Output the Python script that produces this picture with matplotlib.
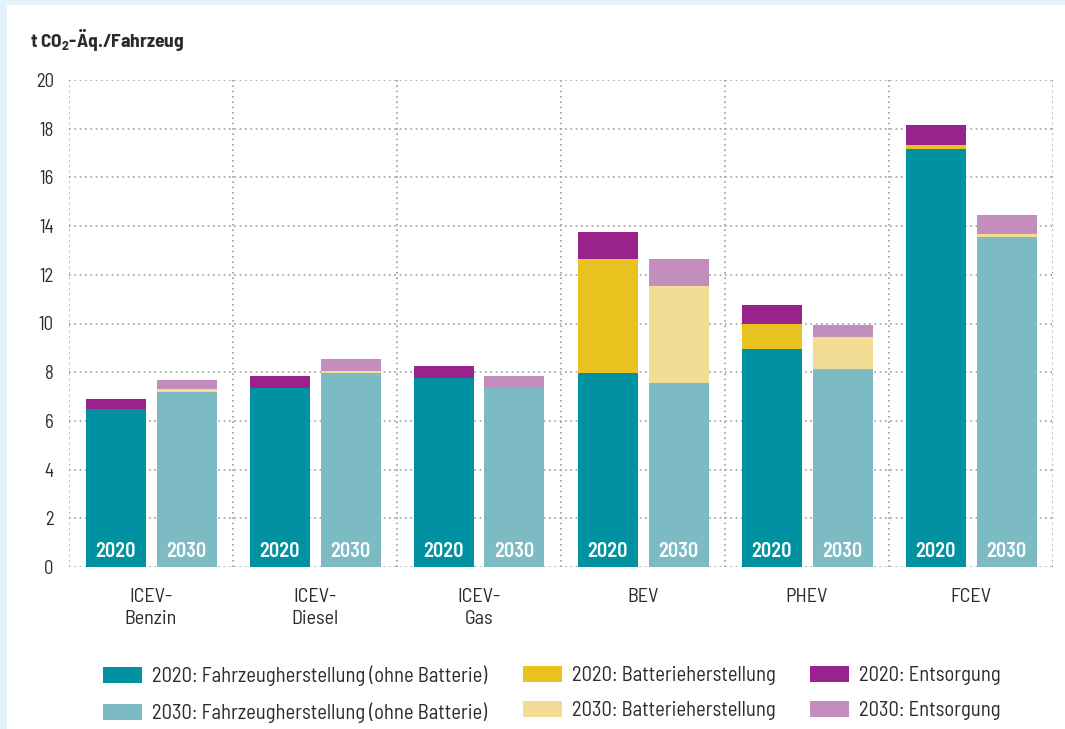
import matplotlib
matplotlib.use('Agg')
import matplotlib.pyplot as plt
from matplotlib import font_manager as fm
from matplotlib.patches import Patch, Rectangle
import numpy as np

categories = ['ICEV-\nBenzin', 'ICEV-\nDiesel', 'ICEV-\nGas', 'BEV', 'PHEV', 'FCEV']
fahrzeug_2020 = [6.5, 7.35, 7.75, 7.95, 8.95, 17.15]
batterie_2020 = [0.0, 0.0, 0.0, 4.7, 1.05, 0.2]
entsorgung_2020 = [0.4, 0.5, 0.5, 1.1, 0.75, 0.8]
fahrzeug_2030 = [7.2, 7.95, 7.35, 7.55, 8.12, 13.55]
batterie_2030 = [0.12, 0.1, 0.0, 4.0, 1.33, 0.12]
entsorgung_2030 = [0.38, 0.5, 0.5, 1.1, 0.48, 0.8]
years = ['2020', '2030']

COL = {
    'f20': '#0092a0', 'f30': '#7dbbc4',
    'b20': '#e8c21e', 'b30': '#f3dd95',
    'e20': '#9a238b', 'e30': '#c38dbe',
}
TXT = '#2b2b2b'

installed = set(f.name for f in fm.fontManager.ttflist)
FONT = 'DejaVu Sans'
for cand in ['Barlow Semi Condensed', 'Roboto Condensed', 'Open Sans Condensed']:
    if cand in installed:
        FONT = cand
        break
plt.rcParams['font.family'] = [FONT, 'DejaVu Sans']
plt.rcParams['mathtext.fontset'] = 'custom'
plt.rcParams['mathtext.rm'] = FONT
plt.rcParams['mathtext.bf'] = FONT + ':bold'

fig = plt.figure(figsize=(10.65, 7.29), dpi=100, facecolor='#e4f2f9')
fig.patches.append(Rectangle((7 / 1065, 0), 1, 724 / 729, transform=fig.transFigure,
                             facecolor='white', edgecolor='none', zorder=-10))
ax = fig.add_axes([69 / 1065, 162 / 729, 984 / 1065, 487 / 729])
ax.set_facecolor('none')

x = np.arange(len(categories)) + 0.5
w = 60 / 164
off = 35.5 / 164

f20 = np.array(fahrzeug_2020)
b20 = np.array(batterie_2020)
e20 = np.array(entsorgung_2020)
f30 = np.array(fahrzeug_2030)
b30 = np.array(batterie_2030)
e30 = np.array(entsorgung_2030)

ax.bar(x - off, f20, w, color=COL['f20'], zorder=3)
ax.bar(x - off, b20, w, bottom=f20, color=COL['b20'], zorder=3)
ax.bar(x - off, e20, w, bottom=f20 + b20, color=COL['e20'], zorder=3)
ax.bar(x + off, f30, w, color=COL['f30'], zorder=3)
ax.bar(x + off, b30, w, bottom=f30, color=COL['b30'], zorder=3)
ax.bar(x + off, e30, w, bottom=f30 + b30, color=COL['e30'], zorder=3)

# Jahreszahl unten in jedem Balken
for xi in x:
    for dx, yr in zip([-off, off], years):
        ax.annotate(yr, xy=(xi + dx, 0), xytext=(0, 11), textcoords='offset points',
                    ha='center', va='center', color='white', fontsize=14.5,
                    fontweight='semibold', zorder=4)

ax.set_xlim(0, 6)
ax.set_ylim(0, 20)
ax.set_xticks(x)
ax.set_xticklabels(categories, fontsize=14.5, color=TXT, linespacing=1.3)
ax.set_xticks(np.arange(0, 7), minor=True)
ax.set_yticks(np.arange(0, 21, 2))
ax.tick_params(axis='both', which='both', length=0)
ax.tick_params(axis='x', pad=15)
ax.tick_params(axis='y', pad=11, labelsize=13.5, labelcolor=TXT)
ax.grid(axis='y', which='major', color='#a0a0a0', linestyle=(0, (1, 2.2)), linewidth=1.2, zorder=0)
ax.grid(axis='x', which='minor', color='#a0a0a0', linestyle=(0, (1, 2.2)), linewidth=1.2, zorder=0)
ax.set_axisbelow(True)
for s in ax.spines.values():
    s.set_visible(False)

fig.text(30 / 1065, 1 - 40 / 729, 't CO$_\\mathbf{2}$-Äq./Fahrzeug', fontsize=14,
         fontweight='bold', color=TXT, ha='left', va='center')

labels = [
    [('f20', '2020: Fahrzeugherstellung (ohne Batterie)'), ('f30', '2030: Fahrzeugherstellung (ohne Batterie)')],
    [('b20', '2020: Batterieherstellung'), ('b30', '2030: Batterieherstellung')],
    [('e20', '2020: Entsorgung'), ('e30', '2030: Entsorgung')],
]
for lx, col in zip([103, 523, 810], labels):
    handles = [Patch(facecolor=COL[k], edgecolor='none') for k, _ in col]
    leg = fig.legend(handles, [t for _, t in col], loc='upper left',
                     bbox_to_anchor=(lx / 1065, 1 - 666 / 729), frameon=False,
                     fontsize=14.8, handlelength=1.92, handleheight=0.8,
                     handletextpad=0.45, labelspacing=0.78, borderpad=0, borderaxespad=0)
    for t in leg.get_texts():
        t.set_color(TXT)

fig.savefig('out.png', dpi=100, facecolor=fig.get_facecolor())
